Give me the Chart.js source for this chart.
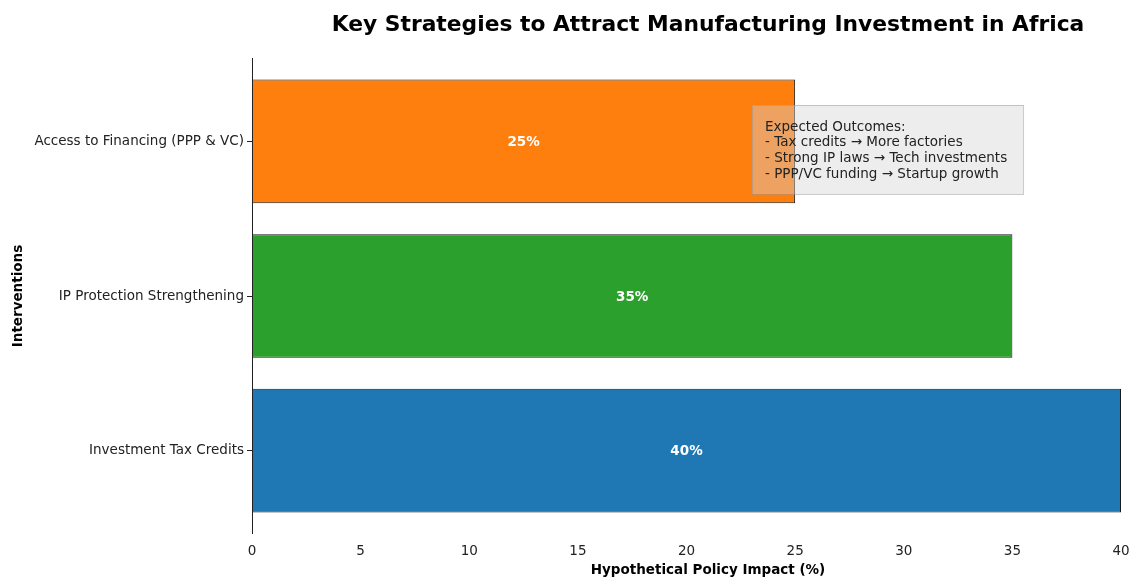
<!DOCTYPE html>
<html>
<head>
<meta charset="utf-8">
<script src="https://cdn.jsdelivr.net/npm/chart.js@4.4.1/dist/chart.umd.min.js"></script>
<style>
  body{margin:0;background:#fff;}
  #wrap{width:1130px;height:578px;position:relative;}
</style>
</head>
<body>
<div id="wrap"><canvas id="mychart" width="1130" height="578"></canvas></div>
<script>
var strategies=["Access to Financing (PPP & VC)","IP Protection Strengthening","Investment Tax Credits"];
var impact=[25,35,40];
var barColours=["#ff7f0e","#2ca02c","#1f77b4"];
var xTicks=[0,5,10,15,20,25,30,35,40];
var outcomes=["Expected Outcomes:","- Tax credits \u2192 More factories","- Strong IP laws \u2192 Tech investments","- PPP/VC funding \u2192 Startup growth"];
var chartTitle="Key Strategies to Attract Manufacturing Investment in Africa";
var xTitle="Hypothetical Policy Impact (%)";
var yTitle="Interventions";

var fontFam="'DejaVu Sans', sans-serif";

// extra drawing: spine, bar labels, note box and titles
var extras={
    id:"extras",
    afterDatasetsDraw:function(chart){
        var ctx=chart.ctx;
        var area=chart.chartArea;
        var meta=chart.getDatasetMeta(0);
        ctx.save();

        // left spine, a little past the outer bars
        ctx.strokeStyle="#222";
        ctx.lineWidth=1;
        ctx.beginPath();
        ctx.moveTo(area.left+0.5,area.top-6);
        ctx.lineTo(area.left+0.5,area.bottom+6);
        ctx.stroke();

        // value labels in the middle of each bar
        ctx.fillStyle="#fff";
        ctx.font="bold 13.5px "+fontFam;
        ctx.textAlign="center";
        ctx.textBaseline="middle";
        meta.data.forEach(function(bar,i){
            ctx.fillText(impact[i]+"%",(bar.x+bar.base)/2,bar.y+1);
        });

        // note box
        var w=area.right-area.left;
        var bx=area.left+0.5754*w, by=105, bw=271, bh=89;
        ctx.fillStyle="rgba(211,211,211,0.42)";
        ctx.fillRect(bx,by,bw,bh);
        ctx.strokeStyle="rgba(150,150,150,0.5)";
        ctx.strokeRect(bx+0.5,by+0.5,bw,bh);
        ctx.fillStyle="#222";
        ctx.font="13.5px "+fontFam;
        ctx.textAlign="left";
        for(var i=0;i<outcomes.length;i++){
            ctx.fillText(outcomes[i],bx+13,by+22+i*15.7);
        }

        // titles
        ctx.fillStyle="#000";
        ctx.textAlign="center";
        ctx.font="bold 21.8px "+fontFam;
        ctx.fillText(chartTitle,708,25);
        ctx.font="bold 13.5px "+fontFam;
        ctx.fillText(xTitle,708,570);
        ctx.translate(18,(area.top+area.bottom)/2);
        ctx.rotate(-Math.PI/2);
        ctx.fillText(yTitle,0,0);
        ctx.restore();
    }
};

var ctx1=document.getElementById("mychart");
var mychart=new Chart(ctx1,{
    type:"bar",
    data:{
        labels:strategies,
        datasets:[
            {
                data:impact,
                backgroundColor:barColours,
                borderColor:"#1a1a1a",
                borderWidth:1,
                borderSkipped:false,
                barPercentage:0.8,
                categoryPercentage:1
            }
        ]
    },
    options:{
        indexAxis:"y",
        responsive:false,
        animation:false,
        layout:{padding:{top:64,right:9,left:0,bottom:0}},
        plugins:{
            legend:{display:false},
            tooltip:{enabled:false}
        },
        scales:{
            x:{
                min:0,
                max:40,
                afterBuildTicks:function(scale){
                    scale.ticks=xTicks.map(function(v){return {value:v};});
                },
                afterFit:function(scale){
                    scale.height=50;
                    scale.paddingLeft=0;
                    scale.paddingRight=0;
                },
                grid:{display:false},
                border:{display:false},
                ticks:{color:"#222",font:{family:fontFam,size:13.5},padding:7,maxRotation:0}
            },
            y:{
                afterFit:function(scale){scale.width=252;},
                grid:{display:true,drawOnChartArea:false,drawTicks:true,tickLength:5,color:"#222",offset:false},
                border:{display:false},
                ticks:{color:"#222",font:{family:fontFam,size:13.5},padding:3}
            }
        }
    },
    plugins:[extras]
});
</script>
</body>
</html>
